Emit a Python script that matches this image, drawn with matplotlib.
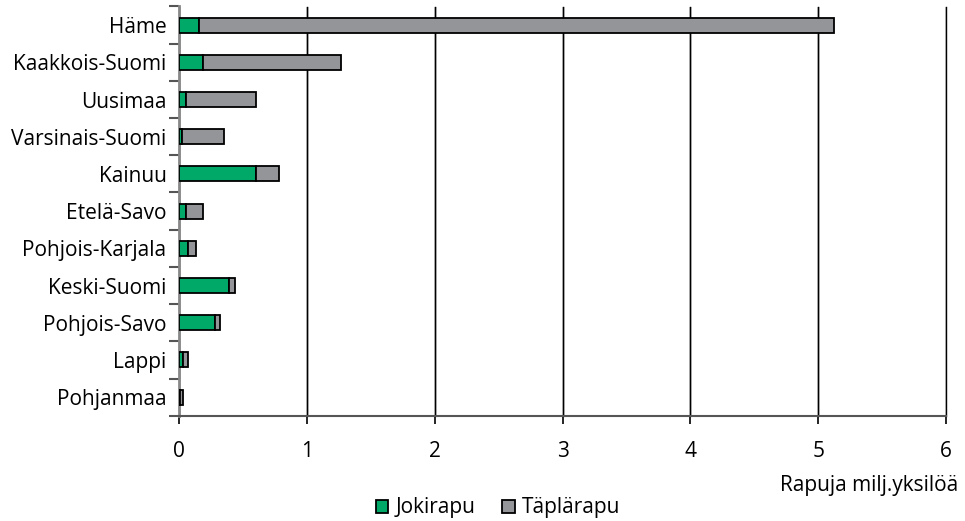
import matplotlib
matplotlib.use("Agg")
import matplotlib.pyplot as plt
import numpy as np

regions = ["Häme", "Kaakkois-Suomi", "Uusimaa", "Varsinais-Suomi", "Kainuu",
           "Etelä-Savo", "Pohjois-Karjala", "Keski-Suomi", "Pohjois-Savo",
           "Lappi", "Pohjanmaa"]
jokirapu = [0.16, 0.19, 0.055, 0.02, 0.60, 0.057, 0.068, 0.39, 0.28, 0.03, 0.01]
taplarapu = [4.96, 1.08, 0.545, 0.335, 0.185, 0.133, 0.065, 0.045, 0.043, 0.04, 0.025]
series_names = ["Jokirapu", "Täplärapu"]
xticks = [0, 1, 2, 3, 4, 5, 6]
xlabel = "Rapuja milj.yksilöä"

plt.rcParams['font.family'] = ['Open Sans', 'DejaVu Sans']
FS = 15

fig = plt.figure(figsize=(9.65, 5.21), dpi=100)
W, H = 965, 521
ax = fig.add_axes([179 / W, 1 - 415.7 / H, (946 - 179) / W, (415.7 - 6.5) / H])

n = len(regions)
y = np.arange(n)
green = "#00a968"
gray = "#939598"
ax.barh(y, jokirapu, height=0.4, color=green, edgecolor="black", linewidth=1.3,
        label=series_names[0], zorder=3)
ax.barh(y, taplarapu, left=jokirapu, height=0.4, color=gray, edgecolor="black",
        linewidth=1.3, label=series_names[1], zorder=3)

ax.set_ylim(n - 0.5, -0.5)
ax.set_xlim(0, 6)
ax.set_yticks(y)
ax.set_yticklabels(regions, fontsize=FS)
ax.tick_params(axis='y', length=0, pad=9)
ax.set_yticks(np.arange(-0.5, n, 1), minor=True)
ax.tick_params(axis='y', which='minor', length=7, width=1.5, color="#555555", direction='out')
ax.set_xticks(xticks)
ax.set_xticklabels([str(t) for t in xticks], fontsize=FS)
ax.tick_params(axis='x', length=6, width=1.2, color="black", direction='out', pad=12)

ax.grid(axis='x', color='black', linewidth=1.0, zorder=0)
for gx in xticks[1:]:
    ax.axvline(gx, color='black', linewidth=1.0, zorder=0, clip_on=False)
for s in ['top', 'right']:
    ax.spines[s].set_visible(False)
ax.spines['left'].set_color("#888888")
ax.spines['left'].set_linewidth(2)
ax.spines['bottom'].set_color("#555555")
ax.spines['bottom'].set_linewidth(1.5)

fig.text(958 / W, 1 - 485 / H, xlabel, ha='right', va='center', fontsize=FS)

handles, labels = ax.get_legend_handles_labels()
fig.legend(handles, labels, loc='center', bbox_to_anchor=(498 / W, 1 - 508 / H),
           ncol=2, frameon=False, fontsize=FS, handlelength=0.6, handleheight=0.6,
           handletextpad=0.35, columnspacing=1.3, borderpad=0.1)

fig.savefig("out.png", dpi=100)
